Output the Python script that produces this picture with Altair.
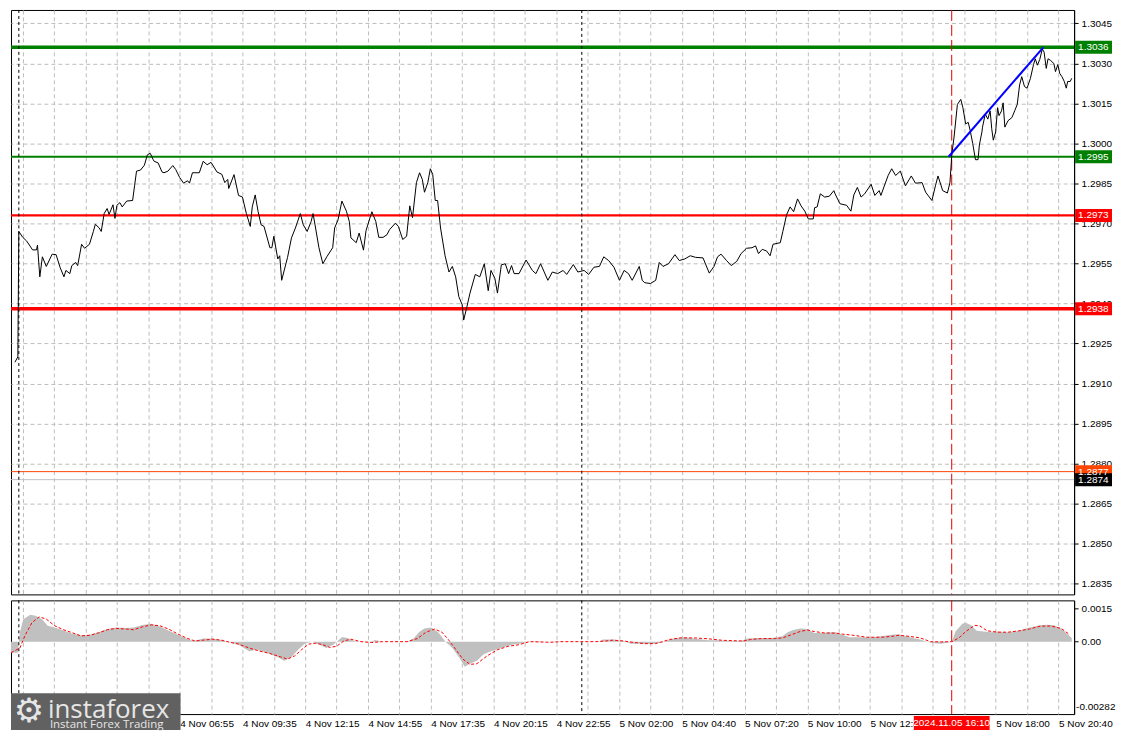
import altair as alt
import pandas as pd

W = 1066
H1 = 586
H2 = 114
FONT = "Liberation Sans"

# ---------------- price series (bar index = 5-minute bars from 4 Nov 00:00) ----------------
bars = [-2, -0.5, 0, 2, 4, 7, 9, 9.5, 10.7, 12, 14, 17, 19, 21, 23, 24, 26, 27, 29, 30,
        32, 33.5, 36, 38, 39, 41, 42, 43.5, 45, 46, 48, 49, 50, 51.5, 52.7, 55, 58, 59, 60, 62,
        64, 65.5, 67, 68.5, 69, 71, 73, 74, 76, 78.5, 80, 82, 84, 86, 87, 88.5, 92, 94, 96, 98,
        101, 103.5, 105, 106.5, 107, 109.7, 112, 114, 116, 118, 119, 120.5, 122, 123.5, 125, 128, 129, 130, 132, 133,
        134, 137, 139, 141, 143.5, 145, 147, 149, 150, 151, 153, 155, 157, 160, 161, 162.7, 164.7, 167, 168.5, 169.3,
        172, 173.5, 175.7, 177, 180, 182, 183.5, 185.7, 187.7, 189, 192, 193.5, 195.7, 197.7, 199.3, 200.7, 202.7, 204.3, 205.7, 206.8,
        208.5, 209.8, 211, 212.3, 213.5, 215, 217.3, 219.3, 221, 222.7, 224.3, 226, 226.8, 228.5, 230, 232.7, 235, 237.3, 239.3, 240.7,
        242.7, 244, 246, 248, 249.7, 251.2, 252.5, 255, 258.6, 261.8, 263.6, 266, 269.7, 272, 274.7, 277.5, 279.3, 282.7, 285, 288.2,
        290.5, 293.2, 296, 298.2, 300.7, 303.4, 306.2, 308.6, 310.8, 312.7, 316.3, 317.8, 319.1, 322, 324.7, 326.5, 328.4, 331.2, 334.5, 336.7,
        339.5, 342.3, 345, 348.8, 352, 354.4, 356.2, 358, 360.8, 363.2, 366, 368.2, 371, 373.8, 375.6, 377.1, 379, 381.2, 383, 384.5,
        388.2, 389.5, 391.4, 393.2, 395, 397, 398.8, 400.7, 402.5, 405, 405.7, 407, 408.6, 410.8, 413.2, 415.5, 416.4, 418.6, 422, 424.2,
        425.7, 427.5, 429.4, 431.2, 434.5, 436.4, 438.6, 439.5, 441.4, 443.2, 445, 447, 449.4, 452, 455, 457.1, 460.5, 462.3, 465.5, 467.3,
        468.6, 471, 473.4, 474.7, 475.7, 476.8, 478.5, 480.2, 481.3, 482.7, 484, 485, 486.3, 487.7, 489, 489.7, 491, 491.3, 492.7, 494,
        495.2, 496, 496.8, 498, 499, 499.7, 501, 501.8, 502.7, 504.3, 506.3, 507.7, 509, 510.2, 511.3, 512.7, 514, 515.7, 517.3, 518.2,
        519.3, 520.5, 521.8, 522.7, 523.8, 524.7, 526, 527.7, 528.5, 529.7, 530.7, 531.8, 533, 534, 534.7, 536, 536.8]
close = [1.29180, 1.29200, 1.29670, 1.29648, 1.29634, 1.29601, 1.29601, 1.29619, 1.29500, 1.29575, 1.29539, 1.29585, 1.29583, 1.29536, 1.29500, 1.29524, 1.29512, 1.29542, 1.29554, 1.29542,
         1.29622, 1.29607, 1.29622, 1.29670, 1.29697, 1.29683, 1.29670, 1.29737, 1.29756, 1.29734, 1.29770, 1.29719, 1.29768, 1.29778, 1.29762, 1.29784, 1.29786, 1.29841, 1.29896, 1.29900,
         1.29918, 1.29957, 1.29963, 1.29939, 1.29933, 1.29927, 1.29893, 1.29890, 1.29896, 1.29917, 1.29902, 1.29872, 1.29851, 1.29860, 1.29851, 1.29890, 1.29890, 1.29933, 1.29920, 1.29929,
         1.29893, 1.29884, 1.29853, 1.29865, 1.29831, 1.29883, 1.29805, 1.29799, 1.29737, 1.29689, 1.29762, 1.29807, 1.29744, 1.29695, 1.29689, 1.29609, 1.29609, 1.29652, 1.29567, 1.29579,
         1.29487, 1.29573, 1.29646, 1.29683, 1.29737, 1.29695, 1.29670, 1.29707, 1.29737, 1.29695, 1.29609, 1.29549, 1.29575, 1.29609, 1.29683, 1.29713, 1.29784, 1.29746, 1.29707, 1.29646,
         1.29628, 1.29664, 1.29600, 1.29673, 1.29744, 1.29707, 1.29648, 1.29648, 1.29658, 1.29677, 1.29701, 1.29689, 1.29640, 1.29652, 1.29766, 1.29722, 1.29853, 1.29890, 1.29865, 1.29817,
         1.29853, 1.29905, 1.29884, 1.29786, 1.29786, 1.29683, 1.29579, 1.29518, 1.29539, 1.29500, 1.29426, 1.29396, 1.29338, 1.29390, 1.29439, 1.29509, 1.29500, 1.29549, 1.29448, 1.29524,
         1.29494, 1.29439, 1.29545, 1.29549, 1.29512, 1.29542, 1.29512, 1.29512, 1.29563, 1.29524, 1.29512, 1.29549, 1.29487, 1.29518, 1.29512, 1.29524, 1.29509, 1.29546, 1.29518, 1.29524,
         1.29509, 1.29536, 1.29539, 1.29575, 1.29561, 1.29536, 1.29487, 1.29524, 1.29512, 1.29487, 1.29539, 1.29487, 1.29478, 1.29475, 1.29487, 1.29554, 1.29539, 1.29549, 1.29583, 1.29561,
         1.29567, 1.29579, 1.29573, 1.29571, 1.29514, 1.29539, 1.29575, 1.29585, 1.29561, 1.29542, 1.29558, 1.29587, 1.29607, 1.29609, 1.29616, 1.29587, 1.29603, 1.29597, 1.29579, 1.29622,
         1.29628, 1.29670, 1.29732, 1.29762, 1.29744, 1.29792, 1.29766, 1.29746, 1.29717, 1.29717, 1.29759, 1.29762, 1.29811, 1.29799, 1.29802, 1.29823, 1.29807, 1.29774, 1.29768, 1.29746,
         1.29807, 1.29835, 1.29799, 1.29811, 1.29847, 1.29805, 1.29823, 1.29805, 1.29844, 1.29880, 1.29905, 1.29880, 1.29896, 1.29841, 1.29878, 1.29851, 1.29853, 1.29817, 1.29786, 1.29841,
         1.29878, 1.29823, 1.29814, 1.29853, 1.29963, 1.30024, 1.30146, 1.30165, 1.30134, 1.30073, 1.30079, 1.30049, 1.30000, 1.29939, 1.29939, 1.29994, 1.30043, 1.30061, 1.30110, 1.30091,
         1.30122, 1.30055, 1.30012, 1.30043, 1.30134, 1.30104, 1.30122, 1.30152, 1.30061, 1.30085, 1.30097, 1.30122, 1.30146, 1.30219, 1.30250, 1.30213, 1.30207, 1.30243, 1.30295, 1.30317,
         1.30293, 1.30315, 1.30354, 1.30342, 1.30281, 1.30317, 1.30311, 1.30299, 1.30269, 1.30295, 1.30262, 1.30250, 1.30232, 1.30207, 1.30232, 1.30232, 1.30244]

# ---------------- MACD histogram and signal ----------------
hist_bar = [-4, -0.5, 0.5, 2.2, 5.8, 8.5, 12, 14.7, 18.3, 22.8, 27.2, 31.7, 36.2, 40.6, 45.1, 49.6, 55, 58.5, 63, 67.4,
            71, 74.6, 80, 85.3, 88.8, 94.2, 98.7, 103.1, 107.6, 112, 117.5, 121, 126.3, 131.7, 135.3, 138.8, 142.5, 146, 149.5, 153.2,
            156.7, 160.3, 164.8, 167.5, 171, 174.5, 178.2, 181.7, 185.3, 192.5, 197.8, 201.3, 204, 206.7, 210.3, 213.8, 217.5, 221, 224.5, 227.3,
            230, 233.5, 237, 240.7, 246, 251.3, 256.7, 260.3, 263.8, 269.2, 274.5, 276, 295.8, 297.6, 303, 308.3, 312, 317.3, 322.8, 328.2,
            331.8, 335.3, 339, 344.3, 351.5, 357, 362.3, 367.8, 371.3, 376.7, 384, 389.3, 392, 394.7, 398.3, 402, 405.5, 410, 412.7, 416.3,
            420, 423.5, 429, 434.3, 439.7, 445, 448.7, 452.3, 455.8, 459.5, 463, 466.7, 470.3, 473.8, 475.7, 477.5, 481, 482.8, 485.5, 488.3,
            491.8, 495.4, 499, 504.4, 509.8, 513.4, 517, 520.6, 524.2, 527.8, 531.4, 535, 536.8]
hist_val = [-0.0005, -0.0005, 0.0004, 0.0010, 0.00122, 0.00117, 0.0010, 0.00072, 0.00064, 0.0005, 0.00036, 0.00029, 0.00031, 0.00043, 0.00057, 0.00064, 0.00062, 0.00064, 0.00076, 0.00081,
            0.00072, 0.00057, 0.00036, 0.00014, 0.00003, 0.00014, 0.00014, 0.00007, -0.00003, -0.00014, -0.00043, -0.00036, -0.0005, -0.00069, -0.00086, -0.00072, -0.00036, -0.00007, 0.0, -0.00014,
            -0.00029, -0.00014, 0.00021, 0.00017, 0.00003, 0.0, -0.00003, 0.00007, 0.0, 0.0, 0.0, 0.00014, 0.00043, 0.0006, 0.00064, 0.00043, 0.0, -0.00029, -0.00072, -0.00114,
            -0.0010, -0.00086, -0.00057, -0.00043, -0.00029, -0.00014, -0.00007, 0.0, 0.00003, 0.0, -0.00003, 0.0, 0.0, 0.0001, 0.0001, 0.00003, -0.00009, -0.00009, -0.00011, -0.00004,
            0.0001, 0.00017, 0.0002, 0.00014, 0.00006, 0.00006, 0.00003, 0.00003, 0.00014, 0.00017, 0.00017, 0.00024, 0.00043, 0.00053, 0.0006, 0.00057, 0.00039, 0.00039, 0.00043, 0.00043,
            0.00031, 0.0002, 0.0002, 0.0002, 0.00024, 0.00031, 0.00034, 0.00024, 0.00017, 0.0001, 0.0, -0.00007, -0.0001, -0.00004, 0.0, 0.00046, 0.00081, 0.00086, 0.00074, 0.00049,
            0.00046, 0.00043, 0.00046, 0.00043, 0.00049, 0.0006, 0.00067, 0.00074, 0.00077, 0.00074, 0.0006, 0.00031, 0.00017]
sig_bar = [-4, 0.5, 3.2, 6.7, 10.3, 13.9, 18.3, 22.8, 27.3, 31.7, 36.2, 40.7, 45.1, 49.6, 55, 58.5, 63, 67.5, 71.9, 76.4,
           80.8, 85.3, 89.8, 94.2, 98.7, 103.2, 107.6, 112, 117.5, 122.8, 128.2, 133.5, 137, 140.7, 144.2, 147.8, 151.4, 155, 158.5, 162,
           165.7, 169.2, 174.5, 180, 185.3, 197.8, 203.2, 207.6, 212, 215.7, 219.2, 222.8, 226.4, 230, 233.5, 238.8, 244.2, 249.5, 255, 260.3,
           271, 276, 294, 299.4, 303, 308.3, 313.8, 319.2, 324.5, 328.2, 331.8, 337.2, 344.3, 351.5, 358.8, 369.5, 373.1, 378.5, 385.7, 389.3,
           394.7, 398.3, 402, 405.5, 411, 416.3, 420, 425.3, 432.5, 439.7, 445, 448.7, 454, 459.5, 464.8, 470.3, 475.7, 479.3, 482.8, 487.3,
           490, 493.7, 499, 504.4, 509.8, 515.2, 520.6, 526, 531.4, 535.9]
sig_val = [-0.0005, -0.00029, 0.00029, 0.00086, 0.00112, 0.00103, 0.00072, 0.00054, 0.0004, 0.00026, 0.00029, 0.0004, 0.00054, 0.0006, 0.00057, 0.00054, 0.00067, 0.00076, 0.00072, 0.00057,
           0.00036, 0.00017, 0.00003, 0.00007, 0.00011, 0.00007, -0.00003, -0.00011, -0.00029, -0.00043, -0.00054, -0.00069, -0.00079, -0.00064, -0.00036, -0.00011, -0.00007, -0.00014, -0.00026, -0.00021,
           0.00003, 0.00011, 0.0, -0.00004, 0.0, 0.0, 0.00014, 0.00043, 0.00057, 0.00043, 0.00007, -0.00036, -0.00079, -0.00103, -0.0010, -0.00064, -0.00036, -0.00021, -0.00014, 0.0,
           -0.00003, 0.0, 0.0, 0.00003, 0.00007, 0.00003, -0.00004, -0.00009, -0.00009, 0.0, 0.0001, 0.00017, 0.00017, 0.00013, 0.00006, 0.00003, 0.0001, 0.00014, 0.00014, 0.00017,
           0.00034, 0.00046, 0.00053, 0.00046, 0.00039, 0.00039, 0.00034, 0.00029, 0.0002, 0.0002, 0.00024, 0.00029, 0.00024, 0.00017, 0.0, -0.00001, 0.0, 0.00017, 0.00046, 0.00074,
           0.00071, 0.00049, 0.00043, 0.00043, 0.00049, 0.00057, 0.0007, 0.00071, 0.0006, 0.00031]

# ---------------- levels, markers, ticks ----------------
level_values = [1.3036, 1.2995, 1.2973, 1.2938, 1.2877, 1.2874]
level_colors = ["#008000", "#008000", "#FF0000", "#FF0000", "#FF4500", "#C0C0C0"]
level_widths = [3.5, 2.2, 2.2, 3.5, 1, 1]
box_colors = ["#008000", "#008000", "#FF0000", "#FF0000", "#FF4500", "#000000"]
level_texts = ["1.3036", "1.2995", "1.2973", "1.2938", "1.2877", "1.2874"]

trend_bars = [474, 522.3]
trend_prices = [1.2995, 1.3036]

separator_bars = [0, 287]
event_bar = [475.6]
event_label = "2024.11.05 16:10"

price_ticks = [1.2835, 1.2850, 1.2865, 1.2880, 1.2895, 1.2910, 1.2925, 1.2940, 1.2955,
               1.2970, 1.2985, 1.3000, 1.3015, 1.3030, 1.3045]
macd_ticks = [0.0015, 0.0]
macd_min_label = "-0.00282"

grid_bars = [2, 18, 34, 50, 66, 82, 98, 114, 130, 146, 162, 178, 194, 210, 226, 242, 258,
             274, 290, 306, 322, 338, 354, 370, 386, 402, 418, 434, 450, 466, 482, 498, 514, 530]
# labels that are visible in the picture (the others sit under the logo / the red date box)
label_bars = [82, 114, 146, 178, 210, 242, 274, 306, 338, 370, 402, 434, 498, 530]
label_texts = ["4 Nov 06:55", "4 Nov 09:35", "4 Nov 12:15",
               "4 Nov 14:55", "4 Nov 17:35", "4 Nov 20:15", "4 Nov 22:55", "5 Nov 02:00",
               "5 Nov 04:40", "5 Nov 07:20", "5 Nov 10:00", "5 Nov 12:40",
               "5 Nov 18:00", "5 Nov 20:40"]

# ---------------- tables ----------------
price_df = pd.DataFrame({"bar": bars, "close": close})
hist_df = pd.DataFrame({"bar": hist_bar, "v": hist_val})
sig_df = pd.DataFrame({"bar": sig_bar, "v": sig_val})
lev_df = pd.DataFrame({"v": level_values, "c": level_colors, "w": level_widths,
                       "bc": box_colors, "t": level_texts})
trend_df = pd.DataFrame({"bar": trend_bars, "close": trend_prices})
sep_df = pd.DataFrame({"bar": separator_bars})
ev_df = pd.DataFrame({"bar": event_bar, "t": [event_label]})

xs = alt.Scale(domain=[-4, 538], nice=False, zero=False)
ys = alt.Scale(domain=[1.2831, 1.3050], nice=False, zero=False)
ms = alt.Scale(domain=[-0.00328, 0.00187], nice=False, zero=False)

GRID = "#BDBDBD"
FS = 10
x_price_axis = alt.Axis(values=grid_bars, labels=False, ticks=False, domain=False, grid=True,
                        gridColor=GRID, gridDash=[4, 3], gridWidth=1, title=None)
y_price_axis = alt.Axis(orient="right", values=price_ticks, format=".4f", grid=True,
                        gridColor=GRID, gridDash=[4, 3], gridWidth=1, tickSize=4,
                        tickColor="black", domainColor="black", labelPadding=3, title=None,
                        labelFont=FONT, labelFontSize=FS, labelColor="black", labelOverlap=False)

label_expr = " : ".join(f"datum.value == {b} ? '{t}'" for b, t in zip(label_bars, label_texts)) + " : ''"
x_macd_axis = alt.Axis(values=grid_bars, labelExpr=label_expr, grid=True, gridColor=GRID,
                       gridDash=[4, 3], gridWidth=1, ticks=False, domain=False, labelAlign="left",
                       labelPadding=4, labelFont=FONT, labelFontSize=FS, labelColor="black",
                       labelOverlap=False, labelFlush=False, title=None)
y_macd_axis = alt.Axis(orient="right", values=macd_ticks,
                       labelExpr="datum.value == 0 ? '0.00' : format(datum.value, '.4f')",
                       grid=False, tickSize=4, tickColor="black", domainColor="black",
                       labelPadding=3, labelFont=FONT, labelFontSize=FS, labelColor="black", title=None)

Xp = alt.X("bar:Q", scale=xs, axis=x_price_axis)
Yp = alt.Y("close:Q", scale=ys, axis=y_price_axis)

# ---------------- price panel ----------------
levels = alt.Chart(lev_df).mark_rule().encode(
    y=alt.Y("v:Q", scale=ys, axis=y_price_axis),
    color=alt.Color("c:N", scale=None),
    strokeWidth=alt.StrokeWidth("w:Q", scale=None),
)
seps = alt.Chart(sep_df).mark_rule(color="black", strokeDash=[3, 3], strokeWidth=1).encode(x=Xp)
event = alt.Chart(ev_df).mark_rule(color="#E00000", strokeDash=[11, 4], strokeWidth=1).encode(x=Xp)
line = alt.Chart(price_df).mark_line(color="black", strokeWidth=1, interpolate="linear").encode(x=Xp, y=Yp)
trend = alt.Chart(trend_df).mark_line(color="#0000FF", strokeWidth=2).encode(x=Xp, y=Yp)
boxes = alt.Chart(lev_df).mark_rect(yOffset=-6.5, y2Offset=6.5).encode(
    x=alt.value(W + 1), x2=alt.value(W + 38),
    y=alt.Y("v:Q", scale=ys, axis=y_price_axis), y2="v:Q",
    color=alt.Color("bc:N", scale=None),
)
box_text = alt.Chart(lev_df).mark_text(align="left", baseline="middle", color="white",
                                       font=FONT, fontSize=FS).encode(
    x=alt.value(W + 4), y=alt.Y("v:Q", scale=ys, axis=y_price_axis), text="t:N"
)
price_panel = alt.layer(levels, seps, event, line, trend, boxes, box_text).properties(width=W, height=H1)

# ---------------- MACD panel ----------------
Xm = alt.X("bar:Q", scale=xs, axis=x_macd_axis)
Ym = alt.Y("v:Q", scale=ms, axis=y_macd_axis)
hist = alt.Chart(hist_df).mark_area(color="#C0C0C0", interpolate="linear").encode(
    x=Xm, y=alt.Y("v:Q", scale=ms, axis=y_macd_axis, stack=None), y2=alt.datum(0)
)
sig = alt.Chart(sig_df).mark_line(color="#FF0000", strokeDash=[3, 2], strokeWidth=1).encode(x=Xm, y=Ym)
seps_m = alt.Chart(sep_df).mark_rule(color="black", strokeDash=[3, 3], strokeWidth=1).encode(x=Xm)
event_m = alt.Chart(ev_df).mark_rule(color="#E00000", strokeDash=[11, 4], strokeWidth=1).encode(x=Xm)
min_text = alt.Chart(pd.DataFrame({"t": [macd_min_label]})).mark_text(
    align="left", baseline="middle", color="black", font=FONT, fontSize=FS).encode(
    x=alt.value(W + 2), y=alt.value(H2 - 7), text="t:N")
ev_box = alt.Chart(ev_df).mark_rect(color="#FF0000", xOffset=-38, x2Offset=38).encode(
    x=Xm, x2="bar:Q", y=alt.value(H2 + 2), y2=alt.value(H2 + 16))
ev_text = alt.Chart(ev_df).mark_text(color="white", align="center", baseline="middle",
                                     font=FONT, fontSize=FS).encode(
    x=Xm, y=alt.value(H2 + 9), text="t:N")

logo_df = pd.DataFrame({"a": ["instaforex"], "b": ["Instant Forex Trading"], "g": ["\u2699"]})
logo_box = alt.Chart(logo_df).mark_rect(color="#616161").encode(
    x=alt.value(0), x2=alt.value(170), y=alt.value(H2 - 21), y2=alt.value(H2 + 16))
logo_gear = alt.Chart(logo_df).mark_text(color="#E6E6E6", font="DejaVu Sans", fontSize=34,
                                         align="center", baseline="middle").encode(
    x=alt.value(18), y=alt.value(H2 - 2), text="g:N")
logo_main = alt.Chart(logo_df).mark_text(color="#E6E6E6", font="Open Sans", fontSize=26,
                                         align="left", baseline="alphabetic").encode(
    x=alt.value(37), y=alt.value(H2 + 4), text="a:N")
logo_sub = alt.Chart(logo_df).mark_text(color="#E6E6E6", font="Open Sans", fontSize=11.5,
                                        align="left", baseline="alphabetic").encode(
    x=alt.value(39), y=alt.value(H2 + 14), text="b:N")

macd_panel = alt.layer(hist, sig, seps_m, event_m, min_text, ev_box, ev_text,
                       logo_box, logo_gear, logo_main, logo_sub).properties(width=W, height=H2)

chart = alt.vconcat(price_panel, macd_panel, spacing=4).properties(
    padding=0, background="white"
).configure_view(stroke="black", strokeWidth=1).configure_axis(labelFont=FONT)

chart.save("out.html", embed_options={"renderer": "svg", "actions": False})
